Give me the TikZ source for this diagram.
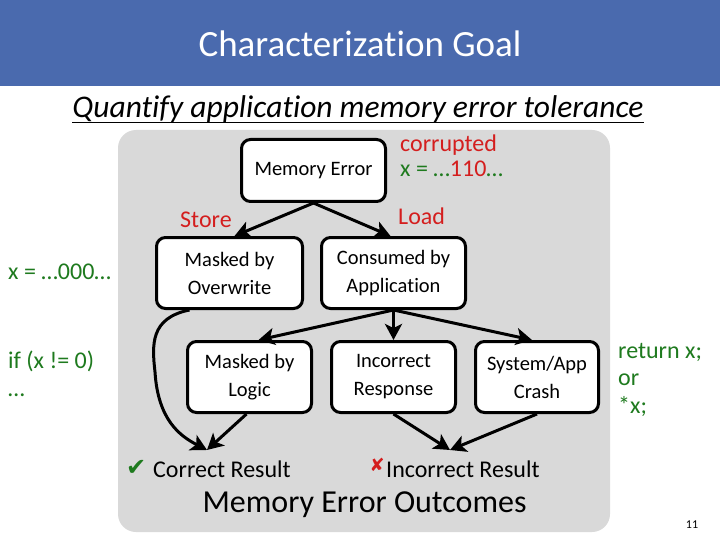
\documentclass[tikz,border=0pt]{standalone}
\usepackage{fontspec}
\setmainfont{Carlito}[Ligatures=NoCommon]
\newfontfamily\symfont{DejaVu Sans}
\usetikzlibrary{arrows.meta, positioning}
\definecolor{titleblue}{RGB}{74,106,174}
\definecolor{panelgray}{RGB}{217,217,217}
\definecolor{codegreen}{RGB}{30,122,30}
\definecolor{hotred}{RGB}{212,30,30}
\tikzstyle{arrow}   = [line width=3pt, -{Stealth[length=16pt,width=17pt,inset=4pt]}]
\tikzstyle{outcome} = [draw, line width=3pt, rounded corners=9pt, fill=white, align=center, inner sep=2pt,
                       minimum height=71pt, font=\fontsize{20.5}{28}\selectfont]
\tikzstyle{label}   = [inner sep=0pt, anchor=base west, font=\fontsize{24}{29}\selectfont]

\begin{document}
\begin{tikzpicture}[x=1pt, y=-1pt]

\useasboundingbox (0,0) rectangle (720,540);
\fill[white] (0,0) rectangle (720,540);

% title bar
\fill[titleblue] (0,0) rectangle (720,86);
\node[inner sep=0pt, anchor=base, text=white, font=\fontsize{37}{40}\selectfont] (title) at (360,57) {Characterization Goal};
\node[inner sep=0pt, anchor=base, font=\fontsize{31.5}{34}\selectfont\itshape] (goal) at (358,118) {Quantify application memory error tolerance};
\draw[line width=1.8pt] ([yshift=-4.5pt]goal.base west) -- ([yshift=-4.5pt]goal.base east);

% panel
\fill[panelgray, rounded corners=18pt] (118,130) rectangle (610,532);

% boxes
\node[outcome, minimum width=144pt, minimum height=62pt] (merr) at (313.5,170.5) {Memory Error};
\node[outcome, minimum width=146pt] (overw) at (229.5,273) {Masked by\\Overwrite};
\node[outcome, minimum width=144pt] (consumed) at (393.5,273) {Consumed by\\Application};
\node[outcome, minimum width=124pt] (logic) at (249.5,377) {Masked by\\Logic};
\node[outcome, minimum width=124pt] (incresp) at (393.5,377) {Incorrect\\Response};
\node[outcome, minimum width=123pt] (crash) at (537,377) {System/App\\Crash};

% free ends
\coordinate (cres) at (207,450);
\coordinate (ires) at (450,450);

% red and green notes
\node[label, text=hotred] (corr) at (400,152) {corrupted};
\node[label, text=codegreen] (xbad) at (400,177) {x = …\textcolor{hotred}{110}…};
\node[label, text=hotred] (store) at (180,227) {Store};
\node[label, text=hotred] (load) at (398,225) {Load};
\node[label, text=codegreen] (xgood) at (8,279) {x = …000…};
\node[label, text=codegreen] (ifx) at (8,368) {if (x != 0)};
\node[label, text=codegreen] (dots) at (8,396) {…};
\node[label, text=codegreen] (ret1) at (618,358) {return x;};
\node[label, text=codegreen] (ret2) at (618,385.5) {or};
\node[label, text=codegreen] (ret3) at (618,413) {*x;};

% outcomes
\node[inner sep=0pt, anchor=base west, text=codegreen, font=\symfont\fontsize{24}{26}\selectfont] (tick) at (126,475) {✔};
\node[label, anchor=base west] (good) at (153,477) {Correct Result};
\node[inner sep=0pt, anchor=base east, text=hotred, font=\symfont\fontsize{18}{20}\selectfont] (cross) at (385,471) {✘};
\node[label] (bad) at (386,477) {Incorrect Result};
\node[inner sep=0pt, anchor=base, font=\fontsize{32}{36}\selectfont] (outc) at (364.5,512) {Memory Error Outcomes};
\node[inner sep=0pt, anchor=base, font=\fontsize{12}{14}\selectfont] (page) at (692,528) {11};

% arrows
\draw[arrow] (merr.south) -- ([xshift=5pt]overw.north);
\draw[arrow] (merr.south) -- ([xshift=-3pt]consumed.north);
\draw[arrow] (consumed.south) -- ([xshift=9pt]logic.north);
\draw[arrow] (consumed.south) -- (incresp.north);
\draw[arrow] (consumed.south) -- ([xshift=-5pt]crash.north);
\draw[arrow] ([xshift=-40pt]overw.south) .. controls (150,318) and (152,345) .. (155,372) .. controls (158,420) and (180,436) .. (cres);
\draw[arrow] ([xshift=-3pt]logic.south) -- (cres);
\draw[arrow] (incresp.south) -- (ires);
\draw[arrow] (crash.south) -- (ires);

\end{tikzpicture}
\end{document}
